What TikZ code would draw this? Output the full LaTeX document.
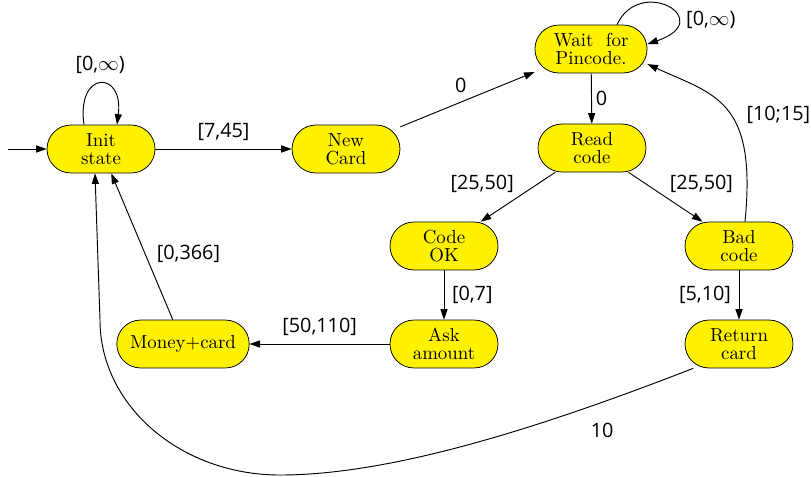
\documentclass[tikz,border=0pt]{standalone}
\usepackage{fontspec}
\usepackage{tikz}
\usetikzlibrary{positioning,calc,arrows.meta}
\newfontfamily\labelfont{Open Sans}

\begin{document}
\begin{tikzpicture}[
    x=0.53pt, y=-0.53pt,
    state/.style={rectangle, rounded corners=12.6pt, draw, fill=yellow, minimum width=57.2pt, minimum height=25.4pt,
        inner xsep=7pt, inner ysep=2pt, align=center, font=\fontsize{10pt}{9.5pt}\selectfont},
    edge/.style={draw, line width=0.5pt, -{Triangle[length=5.6pt, width=3.8pt]}},
    lbl/.style={font=\labelfont\fontsize{10.5pt}{12pt}\selectfont, inner sep=2pt}
]
\useasboundingbox (0,0) rectangle (811,476);

% Define node positions
\coordinate (start) at (8,149);
\node[state] (Init) at (101,149) {Init\\state};
\node[state] (NewCard) at (346,149) {New\\Card};
\node[state, minimum width=59.4pt] (Wait) at (591,49) {Wait\ \ for\\Pincode.};
\node[state] (Read) at (592,148) {Read\\code};
\node[state] (CodeOK) at (444,246) {Code\\OK};
\node[state] (BadCode) at (739,246) {Bad\\code};
\node[state] (Ask) at (444,344) {Ask\\amount};
\node[state] (Return) at (739,344) {Return\\card};
\node[state] (Money) at (183,344) {Money+card};

% Draw edges with time intervals
\draw[edge] (start) -- (Init);
\draw[edge] ($(Init.north)+(-17,0)$) .. controls (76,70) and (124,70) .. ($(Init.north)+(16,0)$)
    node[lbl, pos=0.5, above=3pt] {[0,$\infty$)};
\draw[edge] (Init) -- (NewCard) node[lbl, midway, above=2pt] {[7,45]};
\draw[edge] (NewCard) -- (Wait) node[lbl, pos=0.45, above=3pt] {0};
\draw[edge] ($(Wait.north)+(26,0)$) .. controls (640,-25) and (718,20) .. (Wait.5)
    node[lbl, pos=0.7, right=3pt] {[0,$\infty$)};
\draw[edge] (Wait) -- (Read) node[lbl, midway, right] {0};
\draw[edge] (Read) -- (CodeOK) node[lbl, midway, above left] {[25,50]};
\draw[edge] (Read) -- (BadCode) node[lbl, midway, above right] {[25,50]};
\draw[edge] ($(BadCode.north)+(6,0)$) .. controls (757,100) and (715,95) .. (Wait.-15)
    node[lbl, pos=0.45, right=6pt] {[10;15]};
\draw[edge] (CodeOK) -- (Ask) node[lbl, midway, right=2pt] {[0,7]};
\draw[edge] (BadCode) -- (Return) node[lbl, midway, left=2pt] {[5,10]};
\draw[edge] (Ask) -- (Money) node[lbl, midway, above=2pt] {[50,110]};
\draw[edge] (Money) -- (Init) node[lbl, pos=0.45, right=4pt] {[0,366]};
\draw[edge] (Return.208) .. controls (560,420) and (400,475) .. (280,475)
    node[lbl, pos=0.22, below=9pt] {10}
    .. controls (180.6,475) and (100,405.6) .. (100,320) -- ($(Init.south)+(-6,0)$);

\end{tikzpicture}
\end{document}
